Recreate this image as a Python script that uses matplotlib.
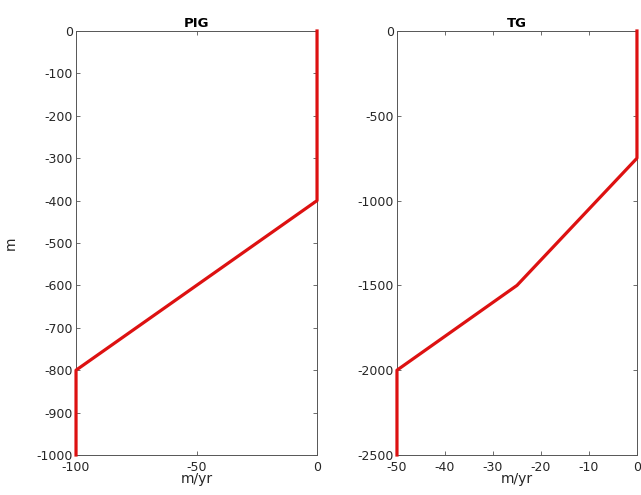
import matplotlib
matplotlib.use("Agg")
import matplotlib.pyplot as plt

# melt-rate profiles with depth
pig_melt = [0, 0, -100, -100]
pig_depth = [0, -400, -800, -1000]
tg_melt = [0, 0, -25, -50, -50]
tg_depth = [0, -750, -1500, -2000, -2500]

pig_xticks = [-100, -50, 0]
pig_yticks = [0, -100, -200, -300, -400, -500, -600, -700, -800, -900, -1000]
tg_xticks = [-50, -40, -30, -20, -10, 0]
tg_yticks = [0, -500, -1000, -1500, -2000, -2500]

plt.rcParams['font.family'] = 'DejaVu Sans'
fig = plt.figure(figsize=(6.41, 4.95), dpi=100)

ax1 = fig.add_axes([0.1186, 0.0808, 0.376, 0.8566])
ax2 = fig.add_axes([0.6193, 0.0808, 0.3744, 0.8566])

def style(ax, xt, yt, title):
    ax.set_xticks(xt)
    ax.set_yticks(yt)
    ax.set_xticklabels([str(v) for v in xt])
    ax.set_yticklabels([str(v) for v in yt])
    ax.tick_params(direction='in', top=True, right=True, length=3,
                   width=0.6, color='#555555', labelsize=9, pad=2,
                   labelcolor='#262626')
    ax.tick_params(axis='x', pad=4)
    for s in ax.spines.values():
        s.set_color('#555555')
        s.set_linewidth(0.7)
    ax.set_title(title, fontsize=9.5, fontweight='bold', pad=3)
    ax.set_xlabel('m/yr', fontsize=10, labelpad=-1, color='#262626')

ax1.plot(pig_melt, pig_depth, color='#dd1111', lw=2.3, clip_on=False, zorder=3)
ax1.set_xlim(-100, 0)
ax1.set_ylim(-1000, 0)
style(ax1, pig_xticks, pig_yticks, 'PIG')
ax1.set_ylabel('m', fontsize=10, color='#262626', labelpad=14)

ax2.plot(tg_melt, tg_depth, color='#dd1111', lw=2.3, clip_on=False, zorder=3)
ax2.set_xlim(-50, 0)
ax2.set_ylim(-2500, 0)
style(ax2, tg_xticks, tg_yticks, 'TG')

fig.savefig('out.png', dpi=100)
